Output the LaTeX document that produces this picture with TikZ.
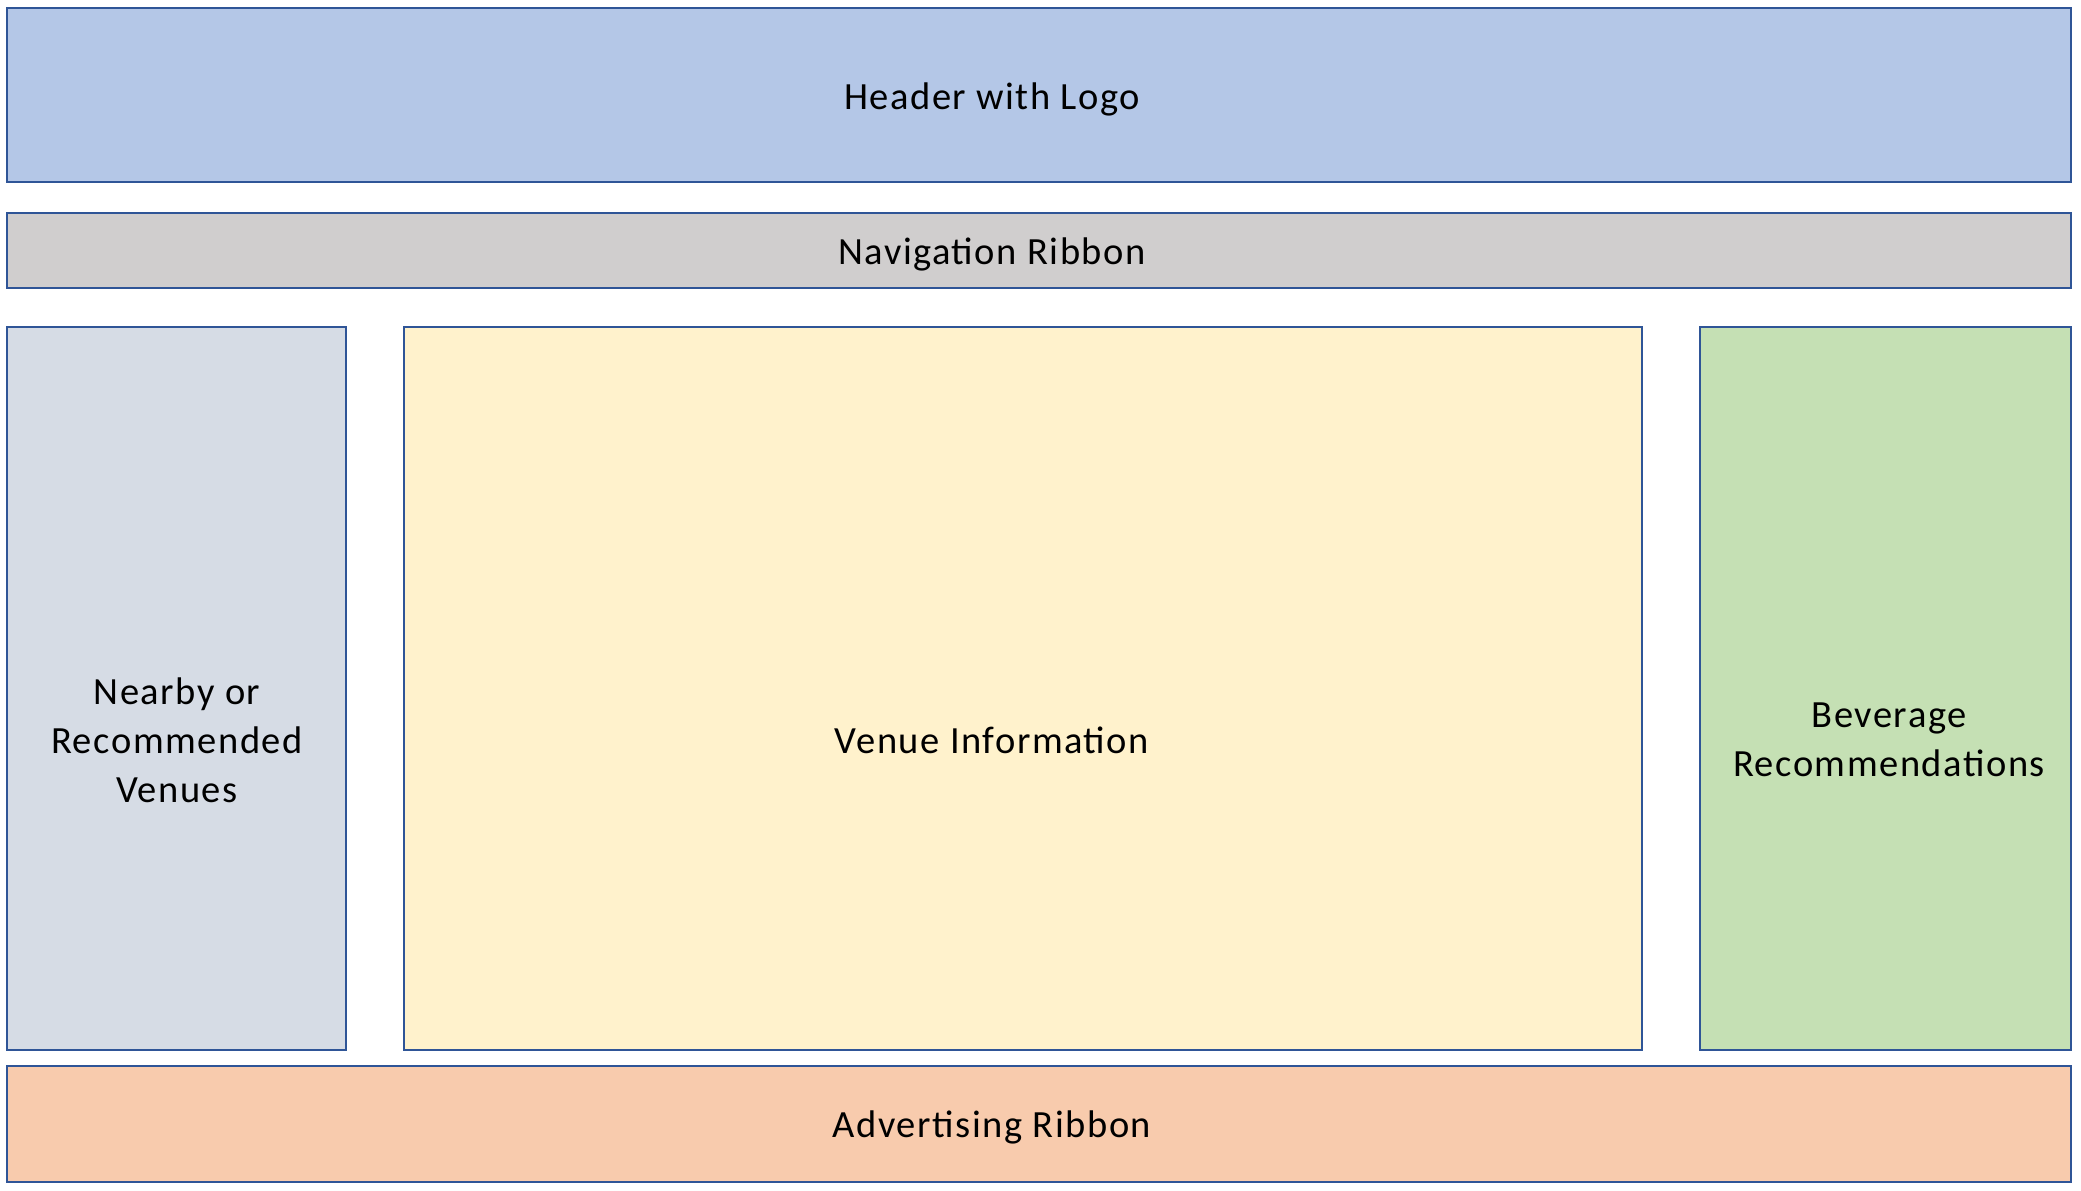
\documentclass[tikz,border=0pt]{standalone}
\usepackage{fontspec}
\setmainfont[LetterSpace=4]{Carlito}
\usepackage{tikz}
\usetikzlibrary{positioning}

\begin{document}
\begin{tikzpicture}[line join=miter]
%%
\tikzset{panel/.style={draw=bordercolor,line width=1.7bp,fill=fillcolor,inner sep=0pt,outer sep=0pt},
  caption/.style={font=\fontsize{38.5bp}{49bp}\selectfont,align=center,inner sep=0pt}}
\definecolor{bordercolor}{HTML}{2F5597};
  \path[use as bounding box] (0bp,0bp) rectangle (2081bp,1191bp);
  \definecolor{fillcolor}{HTML}{B4C7E7};
  \node (header) at (1039bp,1096bp) [panel,minimum width=2064bp,minimum height=174bp] {};
  \definecolor{fillcolor}{HTML}{D0CECE};
  \node (nav) at (1039bp,940.5bp) [panel,minimum width=2064bp,minimum height=75bp] {};
  \definecolor{fillcolor}{HTML}{D6DCE5};
  \node (nearby) at (176.5bp,502.5bp) [panel,minimum width=339bp,minimum height=723bp] {};
  \definecolor{fillcolor}{HTML}{FFF2CC};
  \node (venue) at (1023bp,502.5bp) [panel,minimum width=1238bp,minimum height=723bp] {};
  \definecolor{fillcolor}{HTML}{C5E0B4};
  \node (beverage) at (1885.5bp,502.5bp) [panel,minimum width=371bp,minimum height=723bp] {};
  \definecolor{fillcolor}{HTML}{F8CBAD};
  \node (advert) at (1039bp,67bp) [panel,minimum width=2064bp,minimum height=116bp] {};
%
  \node (header_txt) at (992bp,1092bp) [caption] {Header with Logo};
  \node (nav_txt) at (992bp,937bp) [caption] {Navigation Ribbon};
  \node (nearby_txt) at (177bp,451bp) [caption] {Nearby or\\Recommended\\Venues};
  \node (venue_txt) at (992bp,451bp) [caption] {Venue Information};
  \node (beverage_txt) at (1889bp,451bp) [caption] {Beverage\\Recommendations};
  \node (advert_txt) at (992bp,64bp) [caption] {Advertising Ribbon};
%
\end{tikzpicture}
\end{document}
